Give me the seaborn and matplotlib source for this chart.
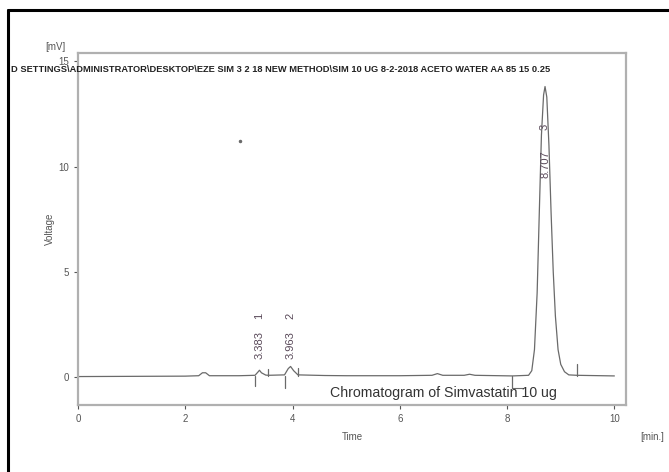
import numpy as np
import pandas as pd
import seaborn as sns
import matplotlib.pyplot as plt
from matplotlib.lines import Line2D

# --- chromatogram trace ---
time_min = [0.0, 1.0, 2.0, 2.25, 2.32, 2.38, 2.45, 3.0, 3.3, 3.36, 3.383, 3.42, 3.5, 3.55,
            3.85, 3.92, 3.963, 4.02, 4.1, 4.6, 5.0, 6.0, 6.6, 6.7, 6.8, 7.2, 7.3, 7.4,
            8.1, 8.4, 8.46, 8.51, 8.56, 8.6, 8.64, 8.68, 8.707, 8.74, 8.78, 8.82,
            8.86, 8.9, 8.95, 9.0, 9.07, 9.15, 9.3, 10.0]
voltage_mv = [0.02, 0.03, 0.04, 0.06, 0.2, 0.2, 0.06, 0.06, 0.08, 0.25, 0.32, 0.2, 0.09, 0.08,
              0.1, 0.4, 0.5, 0.3, 0.1, 0.07, 0.06, 0.06, 0.08, 0.16, 0.08, 0.08, 0.13, 0.08,
              0.05, 0.08, 0.3, 1.3, 4.0, 7.8, 11.5, 13.4, 13.8, 13.3, 11.0, 7.8,
              5.0, 2.9, 1.3, 0.6, 0.25, 0.1, 0.08, 0.05]

# peak table
peak_rt = [3.383, 3.963, 8.707]
peak_no = ["1", "2", "3"]
peak_label_y = [1.5, 1.5, 10.1]
peak_no_y = [2.9, 2.9, 11.9]

# integration markers: x, y from, y to
mark_x = [3.3, 3.55, 3.85, 4.1, 8.1, 9.3]
mark_y0 = [0.05, 0.05, 0.05, 0.05, 0.05, 0.05]
mark_y1 = [-0.45, 0.4, -0.5, 0.45, -0.5, 0.6]

title_path = r"D SETTINGS\ADMINISTRATOR\DESKTOP\EZE SIM 3 2 18 NEW METHOD\SIM 10 UG 8-2-2018 ACETO WATER AA 85 15 0.25"

df = pd.DataFrame({"time": time_min, "voltage": voltage_mv})

sns.set_style("white")
plt.rcParams['font.family'] = ['Liberation Sans', 'DejaVu Sans']

fig = plt.figure(figsize=(6.69, 4.72), dpi=100)
ax = fig.add_axes([0.1166, 0.142, 0.8194, 0.746])

grey = "#6a6a6a"
sns.lineplot(data=df, x="time", y="voltage", ax=ax, color=grey, linewidth=0.9)

for x, y0, y1 in zip(mark_x, mark_y0, mark_y1):
    ax.plot([x, x], [y0, y1], color=grey, linewidth=0.9)
ax.plot([8.1, 8.3], [-0.5, -0.5], color=grey, linewidth=0.8)

for rt, ly, no, ny in zip(peak_rt, peak_label_y, peak_no, peak_no_y):
    ax.text(rt, ly, f"{rt:.3f}", rotation=90, ha="center", va="center",
            fontsize=8, color="#5a4a5a")
    ax.text(rt, ny, no, rotation=90, ha="center", va="center",
            fontsize=8, color="#5a4a5a")

ax.plot([3.02], [11.2], marker="o", markersize=1.5, color=grey)

ax.text(4.7, -0.75, "Chromatogram of Simvastatin 10 ug", fontsize=10.2,
        color="#333333", ha="left", va="center")

ax.set_xlim(0, 10.22)
ax.set_ylim(-1.33, 15.4)
ax.set_xticks([0, 2, 4, 6, 8, 10])
ax.set_yticks([0, 5, 10, 15])
ax.set_xlabel("Time", fontsize=7, color="#555555", labelpad=6)
ax.set_ylabel("Voltage", fontsize=7, color="#555555", labelpad=2)
ax.tick_params(axis="both", labelsize=7, colors="#555555", length=3,
               width=0.8, direction="out", bottom=True, left=True)
for s in ax.spines.values():
    s.set_color("#b0b0b0")
    s.set_linewidth(1.6)

fig.text(45 / 669, 1 - 47 / 472, "[mV]", fontsize=7, color="#555555", ha="left", va="center")
fig.text(640 / 669, 1 - 437 / 472, "[min.]", fontsize=7, color="#555555", ha="left", va="center")
fig.text(11 / 669, 1 - 70 / 472, title_path, fontsize=6.65, fontweight="bold",
         color="#222222", ha="left", va="center")

# outer frame of the screenshot
fig.add_artist(Line2D([8 / 669, 8 / 669], [0, 1 - 10 / 472], color="black", linewidth=2.2))
fig.add_artist(Line2D([8 / 669, 1], [1 - 10 / 472, 1 - 10 / 472], color="black", linewidth=2.2))

plt.savefig("out.png", dpi=100)
